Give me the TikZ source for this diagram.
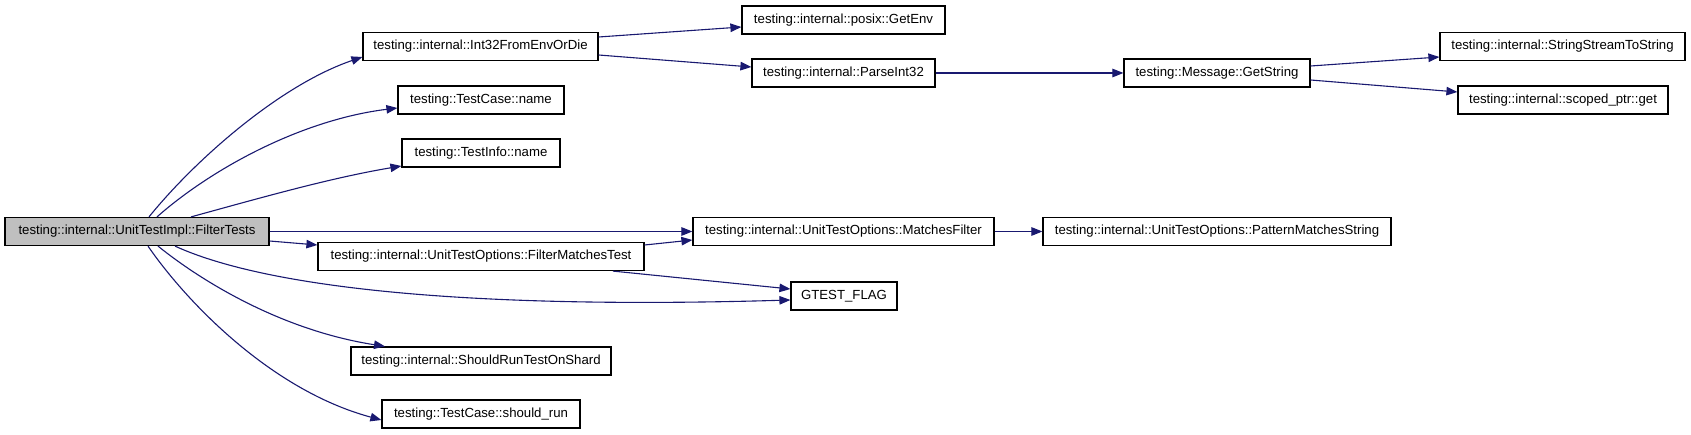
\documentclass[tikz,border=0pt]{standalone}
\usepackage{fontspec}
\setmainfont{Liberation Sans}
\usetikzlibrary{arrows.meta}
\definecolor{edgecol}{RGB}{25,25,112}
\definecolor{boxgray}{RGB}{191,191,191}
\begin{document}
\begin{tikzpicture}[x=1pt,y=-1pt,
  fn/.style={draw=black, line width=1.2pt, fill=white, rectangle, minimum height=28pt, inner sep=0pt, font=\fontsize{13.2}{15}\selectfont},
  call/.style={draw=edgecol, line width=1.1pt, -{Triangle[length=11pt,width=8.5pt]}},
]
\useasboundingbox (0,0) rectangle (1691,435);
\node[fn, fill=boxgray, minimum width=264pt] (ft) at (137,231.5) {testing::internal::UnitTestImpl::FilterTests};
\node[fn, minimum width=235pt] (i32) at (480.5,46.5) {testing::internal::Int32FromEnvOrDie};
\node[fn, minimum width=166pt] (tcn) at (481,100) {testing::TestCase::name};
\node[fn, minimum width=158pt] (tin) at (481,153) {testing::TestInfo::name};
\node[fn, minimum width=326pt] (fmt) at (481,256.5) {testing::internal::UnitTestOptions::FilterMatchesTest};
\node[fn, minimum width=260pt] (srts) at (481,361) {testing::internal::ShouldRunTestOnShard};
\node[fn, minimum width=198pt] (sr) at (481,414) {testing::TestCase::should\_run};
\node[fn, minimum width=203pt] (genv) at (843.5,20) {testing::internal::posix::GetEnv};
\node[fn, minimum width=183pt] (pint) at (843.5,73) {testing::internal::ParseInt32};
\node[fn, minimum width=301pt] (mf) at (843.5,231.5) {testing::internal::UnitTestOptions::MatchesFilter};
\node[fn, minimum width=106pt] (gf) at (844,296) {GTEST\_FLAG};
\node[fn, minimum width=186pt] (gs) at (1217,73) {testing::Message::GetString};
\node[fn, minimum width=348pt] (pms) at (1217,231.5) {testing::internal::UnitTestOptions::PatternMatchesString};
\node[fn, minimum width=245pt] (ssts) at (1562.5,46.5) {testing::internal::StringStreamToString};
\node[fn, minimum width=210pt] (sp) at (1563,100) {testing::internal::scoped\_ptr::get};

% from FilterTests
\draw[call] ([xshift=12pt]ft.north) .. controls (195,160) and (280,85) .. ([yshift=-10.5pt]i32.west);
\draw[call] ([xshift=20pt]ft.north) .. controls (210,170) and (300,120) .. ([yshift=-8pt]tcn.west);
\draw[call] ([xshift=54pt]ft.north) .. controls (260,198) and (330,178) .. ([yshift=-13pt]tin.west);
\draw[call] (ft.east) -- (mf.west);
\draw[call] ([yshift=-9.5pt]ft.east) -- ([yshift=11.5pt]fmt.west);
\draw[call] ([xshift=38pt]ft.south) .. controls (260,285) and (450,310) .. ([yshift=-4pt]gf.west);
\draw[call] ([xshift=21pt]ft.south) .. controls (200,280) and (280,330) .. ([xshift=-96pt]srts.north);
\draw[call] ([xshift=11pt]ft.south) .. controls (185,300) and (270,390) .. ([yshift=-6pt]sr.west);
% second level
\draw[call] ([yshift=9.5pt]i32.east) -- ([yshift=-7pt]genv.west);
\draw[call] ([yshift=-8.5pt]i32.east) -- ([yshift=6pt]pint.west);
\draw[call] (pint.east) -- (gs.west);
\draw[call] ([yshift=7pt]gs.east) -- ([yshift=-10.5pt]ssts.west);
\draw[call] ([yshift=-7pt]gs.east) -- ([yshift=8pt]sp.west);
\draw[call] ([yshift=11.5pt]fmt.east) -- ([yshift=-8.5pt]mf.west);
\draw[call] ([xshift=132pt]fmt.south) -- ([yshift=7pt]gf.west);
\draw[call] (mf.east) -- (pms.west);
\end{tikzpicture}
\end{document}
